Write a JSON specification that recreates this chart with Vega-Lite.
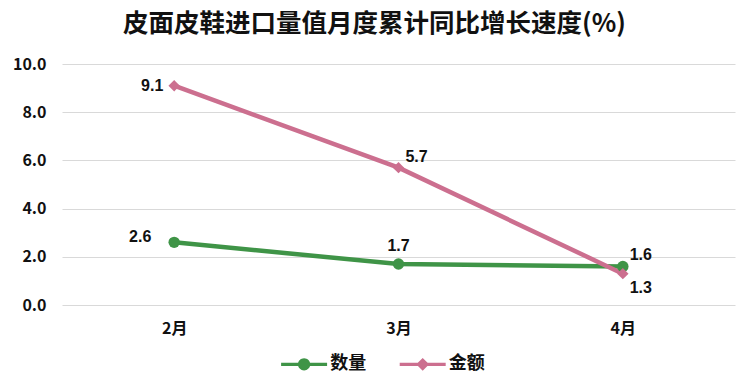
{
  "$schema": "https://vega.github.io/schema/vega-lite/v6.json",
  "width": 673,
  "height": 241,
  "autosize": "none",
  "padding": {"left": 62, "top": 64, "right": 15, "bottom": 76},
  "background": "white",
  "config": {
    "font": "Noto Sans CJK SC",
    "view": {"stroke": null}
  },
  "title": {
    "text": "皮面皮鞋进口量值月度累计同比增长速度(%)",
    "fontSize": 25.5,
    "fontWeight": "bold",
    "color": "#111111",
    "anchor": "middle",
    "offset": 19,
    "dx": -24,
    "font": "Noto Sans CJK SC"
  },
  "data": {
    "values": [
      {"month": "2月", "series": "数量", "value": 2.6},
      {"month": "3月", "series": "数量", "value": 1.7},
      {"month": "4月", "series": "数量", "value": 1.6},
      {"month": "2月", "series": "金额", "value": 9.1},
      {"month": "3月", "series": "金额", "value": 5.7},
      {"month": "4月", "series": "金额", "value": 1.3}
    ]
  },
  "encoding": {
    "x": {
      "field": "month", "type": "nominal", "sort": ["2月", "3月", "4月"],
      "scale": {"paddingInner": 0, "paddingOuter": 0},
      "axis": {"title": null, "labelAngle": 0, "labelFontSize": 16, "labelFontWeight": "bold", "labelColor": "#111111", "ticks": false, "domain": false, "labelPadding": 15, "grid": false}
    },
    "y": {
      "field": "value", "type": "quantitative",
      "scale": {"domain": [0, 10]},
      "axis": {"title": null, "values": [0, 2, 4, 6, 8, 10], "format": ".1f", "labelFontSize": 16, "labelFontWeight": "bold", "labelColor": "#111111", "ticks": false, "domain": false, "gridColor": "#d9d9d9", "gridWidth": 1, "labelPadding": 16}
    }
  },
  "layer": [
    {
      "mark": {"type": "line", "strokeWidth": 4.5},
      "encoding": {"color": {"field": "series", "type": "nominal", "scale": {"domain": ["数量", "金额"], "range": ["#3f9447", "#cc6f8f"]}}}
    },
    {
      "transform": [{"filter": "datum.series == '数量'"}],
      "mark": {"type": "point", "shape": "circle", "filled": true, "size": 130, "opacity": 1},
      "encoding": {"color": {"field": "series", "type": "nominal"}}
    },
    {
      "transform": [{"filter": "datum.series == '金额'"}],
      "mark": {"type": "point", "shape": "diamond", "filled": true, "size": 130, "opacity": 1},
      "encoding": {"color": {"field": "series", "type": "nominal"}}
    },
    {
      "mark": {"type": "point", "filled": true, "opacity": 0, "size": 0},
      "encoding": {
        "color": {
          "field": "series", "type": "nominal",
          "legend": {"title": null, "orient": "none", "legendX": 227.6, "legendY": 285.6, "direction": "horizontal", "labelFontSize": 18, "labelFontWeight": "bold", "labelColor": "#111111", "symbolSize": 826, "symbolStrokeWidth": 0, "symbolOpacity": 1, "labelOffset": 11.6, "columnPadding": 32.6}
        },
        "shape": {
          "field": "series", "type": "nominal",
          "scale": {"domain": ["数量", "金额"], "range": ["M-1.6,-0.12H1.6V0.12H-1.6Z M0.43,0 A0.43,0.43 0 1 1 -0.43,0 A0.43,0.43 0 1 1 0.43,0 Z", "M-1.6,-0.12H1.6V0.12H-1.6Z M0,-0.45 L0.45,0 L0,0.45 L-0.45,0 Z"]},
          "legend": {"title": null, "orient": "none", "legendX": 227.6, "legendY": 285.6, "direction": "horizontal", "labelFontSize": 18, "labelFontWeight": "bold", "labelColor": "#111111", "symbolSize": 826, "symbolStrokeWidth": 0, "symbolOpacity": 1, "labelOffset": 11.6, "columnPadding": 32.6}
        }
      }
    },
    {
      "transform": [{"filter": "datum.series == '金额' && datum.month == '2月'"}],
      "mark": {"type": "text", "dx": -22, "dy": 0, "fontSize": 16, "fontWeight": "bold", "font": "Liberation Sans", "color": "#111111"},
      "encoding": {"text": {"field": "value", "format": ".1f"}}
    },
    {
      "transform": [{"filter": "datum.series == '金额' && datum.month == '3月'"}],
      "mark": {"type": "text", "dx": 18, "dy": -11, "fontSize": 16, "fontWeight": "bold", "font": "Liberation Sans", "color": "#111111"},
      "encoding": {"text": {"field": "value", "format": ".1f"}}
    },
    {
      "transform": [{"filter": "datum.series == '金额' && datum.month == '4月'"}],
      "mark": {"type": "text", "dx": 18, "dy": 14, "fontSize": 16, "fontWeight": "bold", "font": "Liberation Sans", "color": "#111111"},
      "encoding": {"text": {"field": "value", "format": ".1f"}}
    },
    {
      "transform": [{"filter": "datum.series == '数量' && datum.month == '2月'"}],
      "mark": {"type": "text", "dx": -34, "dy": -5, "fontSize": 16, "fontWeight": "bold", "font": "Liberation Sans", "color": "#111111"},
      "encoding": {"text": {"field": "value", "format": ".1f"}}
    },
    {
      "transform": [{"filter": "datum.series == '数量' && datum.month == '3月'"}],
      "mark": {"type": "text", "dx": 0, "dy": -18, "fontSize": 16, "fontWeight": "bold", "font": "Liberation Sans", "color": "#111111"},
      "encoding": {"text": {"field": "value", "format": ".1f"}}
    },
    {
      "transform": [{"filter": "datum.series == '数量' && datum.month == '4月'"}],
      "mark": {"type": "text", "dx": 18, "dy": -11, "fontSize": 16, "fontWeight": "bold", "font": "Liberation Sans", "color": "#111111"},
      "encoding": {"text": {"field": "value", "format": ".1f"}}
    }
  ]
}
